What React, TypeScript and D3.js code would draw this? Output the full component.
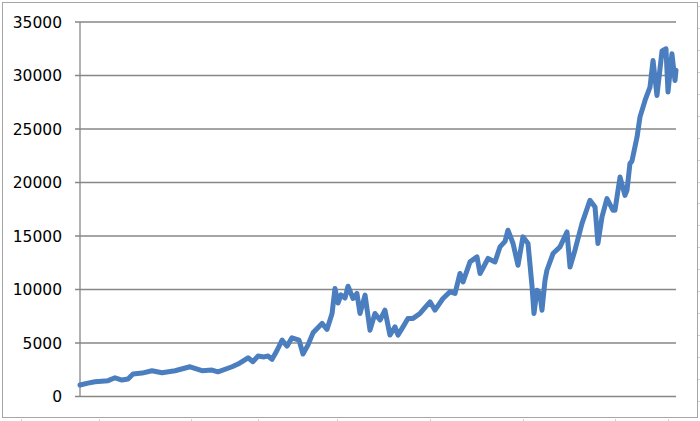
import React from "react";
import * as d3 from "d3";

const years: number[] = [
  1980.0, 1980.55, 1981.03, 1981.93, 1982.41, 1982.89, 1983.3, 1983.65, 1984.27, 1984.95,
  1985.64, 1986.54, 1987.57, 1988.39, 1989.08, 1989.49, 1990.46, 1990.87, 1991.56, 1991.9,
  1992.24, 1992.66, 1992.93, 1993.21, 1993.55, 1993.9, 1994.24, 1994.58, 1995.07, 1995.34,
  1995.68, 1996.03, 1996.65, 1996.99, 1997.34, 1997.54, 1997.75, 1997.95, 1998.23, 1998.44,
  1998.78, 1999.05, 1999.26, 1999.61, 1999.95, 2000.29, 2000.64, 2000.98, 2001.32, 2001.67,
  2001.88, 2002.22, 2002.56, 2002.91, 2003.39, 2003.73, 2004.08, 2004.42, 2004.97, 2005.45,
  2005.8, 2006.14, 2006.35, 2006.83, 2007.31, 2007.52, 2008.07, 2008.55, 2008.89, 2009.24,
  2009.44, 2009.79, 2010.13, 2010.47, 2010.82, 2011.09, 2011.23, 2011.44, 2011.64, 2011.78,
  2011.99, 2012.12, 2012.54, 2013.02, 2013.5, 2013.71, 2014.05, 2014.53, 2015.08, 2015.43,
  2015.63, 2015.91, 2016.25, 2016.67, 2016.8, 2017.15, 2017.49, 2017.63, 2017.83, 2017.97,
  2018.32, 2018.52, 2018.87, 2019.21, 2019.42, 2019.69, 2020.04, 2020.31, 2020.45, 2020.72,
  2020.93, 2021.0,
];

const values: number[] = [
  1070, 1250, 1380, 1480, 1750, 1540, 1630, 2100, 2190, 2410,
  2220, 2410, 2780, 2410, 2470, 2310, 2780, 3030, 3620, 3250,
  3780, 3700, 3780, 3470, 4300, 5270, 4710, 5490, 5270, 3970,
  4800, 5950, 6830, 6270, 7760, 10100, 8730, 9500, 9200, 10310,
  9160, 9630, 7760, 9470, 6200, 7760, 7140, 8070, 5740, 6510,
  5740, 6510, 7300, 7300, 7760, 8300, 8850, 8070, 9160, 9780,
  9630, 11500, 10710, 12580, 13050, 11500, 12900, 12580, 13980, 14500,
  15540, 14300, 12270, 14920, 14300, 10400, 7760, 9940, 9630, 8070,
  10870, 11800, 13360, 13980, 15380, 12110, 13670, 16160, 18340, 17710,
  14300, 16780, 18500, 17400, 17400, 20510, 18800, 19270, 21760, 22000,
  24250, 26110, 27670, 28910, 31400, 28140, 32300, 32500, 28450, 32030,
  29540, 30500,
];

const yTicks: number[] = [0, 5000, 10000, 15000, 20000, 25000, 30000, 35000];

const W = 700;
const H = 421;

export default function App() {
  const x = d3.scaleLinear().domain([1980, 2021]).range([80, 676]);
  const y = d3.scaleLinear().domain([0, 35000]).range([396.5, 22]);
  const pts = years.map((t, i) => [t, values[i]] as [number, number]);
  const line = d3
    .line<[number, number]>()
    .x((d) => x(d[0]))
    .y((d) => y(d[1]));

  const colMarks = [21, 99, 191, 258, 337, 430, 523, 615, 668];
  const rowMarks = d3.range(0, 19).map((k) => 6 + 21.94 * k);

  return (
    <svg
      width={W}
      height={H}
      style={{ position: "absolute", left: 0, top: 0, background: "#fff" }}
    >
      {colMarks.map((cx) => (
        <line key={"c" + cx} x1={cx + 0.5} x2={cx + 0.5} y1={419} y2={421} stroke="#d0d0d0" />
      ))}
      {rowMarks.map((ry, i) => (
        <line key={"r" + i} x1={698} x2={700} y1={Math.round(ry) + 0.5} y2={Math.round(ry) + 0.5} stroke="#d0d0d0" />
      ))}
      <rect x={2.5} y={2.5} width={695} height={415} fill="#fff" stroke="#a6a6a6" strokeWidth={1} />
      {yTicks.map((v) => (
        <g key={v}>
          <line
            x1={75}
            x2={x.range()[1]}
            y1={y(v)}
            y2={y(v)}
            stroke="#878787"
            strokeWidth={1.3}
          />
          <text
            x={62}
            y={y(v)}
            dy="0.36em"
            textAnchor="end"
            fontFamily="DejaVu Sans, Verdana, sans-serif"
            fontSize={15.5}
            fill="#000"
          >
            {v}
          </text>
        </g>
      ))}
      <line x1={80} x2={80} y1={y(35000)} y2={y(0)} stroke="#878787" strokeWidth={1.3} />
      <path
        d={line(pts) || ""}
        fill="none"
        stroke="#4a7ebf"
        strokeWidth={5}
        strokeLinejoin="round"
        strokeLinecap="round"
      />
    </svg>
  );
}
